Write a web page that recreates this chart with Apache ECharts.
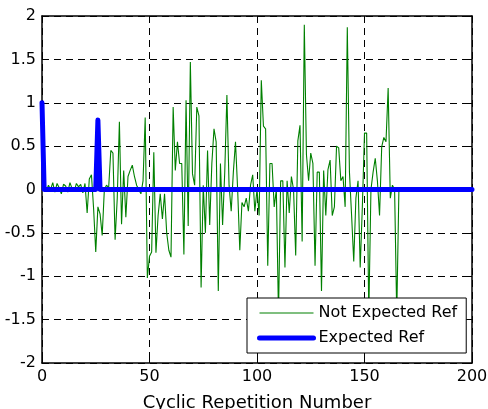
<!DOCTYPE html>
<html><head><meta charset="utf-8">
<script src="https://cdn.jsdelivr.net/npm/echarts@6/dist/echarts.min.js"></script>
<style>html,body{margin:0;padding:0;background:#fff}#c{width:488px;height:409px}</style>
</head><body><div id="c"></div>
<script>
// Not Expected Ref: values at x = 1, 2, 3, ...
const notExpectedStartX = 1;
const notExpectedValues = [
  0.03,-0.02,0.05,0.00,0.08,-0.03,0.07,0.02,-0.05,0.06,
  0.04,-0.03,0.08,0.01,-0.02,0.07,0.03,0.06,-0.04,0.07,
  -0.27,0.12,0.17,-0.22,-0.72,-0.20,-0.28,-0.53,0.00,0.05,
  0.02,0.45,0.42,-0.58,-0.10,0.78,-0.40,0.22,-0.32,0.15,
  0.22,0.28,0.15,0.05,0.00,-0.05,0.10,0.83,-1.02,-0.77,
  -0.72,0.43,-0.73,-0.30,-0.05,-0.34,-0.05,-0.50,-0.70,-0.78,
  0.95,0.22,0.55,0.30,0.30,-0.75,1.03,-0.42,1.47,0.18,
  0.05,0.95,0.85,-1.13,0.05,-0.50,0.45,-0.41,0.30,0.70,
  0.55,-1.17,0.30,-0.41,0.20,1.09,0.05,-0.25,0.20,0.55,
  0.00,-0.70,-0.15,-0.20,-0.10,-0.25,0.05,0.17,-0.25,0.00,
  -0.30,1.26,0.73,0.70,-0.88,0.30,0.30,-0.20,0.00,-1.45,
  0.10,0.10,-0.90,0.10,-0.27,0.15,0.00,-0.76,0.56,0.74,
  -0.60,1.90,0.40,0.10,0.42,0.30,-0.88,0.20,0.20,-1.17,
  0.22,-0.30,0.23,0.34,-0.30,-0.20,0.50,0.48,0.10,0.15,
  -0.20,1.87,0.20,-0.30,-0.83,-0.10,0.10,-0.90,-0.20,0.65,
  0.65,-1.45,0.00,0.20,0.36,0.10,-0.30,0.49,0.60,0.55,
  1.17,-0.10,0.05,0.00,-1.45,0.00
];
// Expected Ref breakpoints
const expectedX = [0, 1, 25, 26, 27, 200];
const expectedY = [1, 0, 0, 0.8, 0, 0];
const seriesNames = ['Not Expected Ref', 'Expected Ref'];
const xAxisTitle = 'Cyclic Repetition Number';

const font = 'DejaVu Sans';
const greenData = notExpectedValues.map((v, i) => [notExpectedStartX + i, v]);
const blueData = expectedX.map((x, i) => [x, expectedY[i]]);

const chart = echarts.init(document.getElementById('c'), null, {renderer: 'canvas'});
const axisCommon = {
  axisLine: {show: true, onZero: false, lineStyle: {color: '#000', width: 1.5}},
  axisTick: {show: true, inside: true, length: 5, lineStyle: {color: '#000', width: 1}},
};
chart.setOption({
  animation: false,
  backgroundColor: '#fff',
  grid: {left: 42, right: 16, top: 16, bottom: 46, containLabel: false, outerBoundsMode: 'none'},
  legend: {
    data: [
      {name: seriesNames[0], lineStyle: {width: 1.2, color: '#008000'}, itemStyle: {opacity: 0}},
      {name: seriesNames[1], lineStyle: {width: 5, color: '#0000ff'}, itemStyle: {opacity: 0}}
    ],
    orient: 'vertical',
    left: 247, top: 298,
    padding: [7, 9, 7, 10],
    itemWidth: 54, itemHeight: 16, itemGap: 9,
    backgroundColor: '#fff', borderColor: '#000', borderWidth: 1, borderRadius: 0,
    textStyle: {fontFamily: font, fontSize: 16, color: '#000'},
    selectedMode: false
  },
  xAxis: [
    Object.assign({
      type: 'value', min: 0, max: 200, interval: 50, position: 'bottom',
      name: xAxisTitle, nameLocation: 'middle', nameGap: 31,
      nameTextStyle: {fontFamily: font, fontSize: 18, color: '#000'},
      axisLabel: {fontFamily: font, fontSize: 16, color: '#000', margin: 6},
      splitLine: {show: true, lineStyle: {color: '#000', width: 1, type: [7, 5]}}
    }, axisCommon),
    Object.assign({
      type: 'value', min: 0, max: 200, interval: 50, position: 'top',
      axisLabel: {show: false}, splitLine: {show: false}
    }, axisCommon)
  ],
  yAxis: [
    Object.assign({
      type: 'value', min: -2, max: 2, interval: 0.5, position: 'left',
      axisLabel: {fontFamily: font, fontSize: 16, color: '#000', margin: 6},
      splitLine: {show: true, lineStyle: {color: '#000', width: 1, type: [7, 5]}}
    }, axisCommon),
    Object.assign({
      type: 'value', min: -2, max: 2, interval: 0.5, position: 'right',
      axisLabel: {show: false}, splitLine: {show: false}
    }, axisCommon)
  ],
  series: [
    {
      name: seriesNames[0], type: 'line', data: greenData,
      xAxisIndex: 0, yAxisIndex: 0,
      showSymbol: false, symbol: 'none',
      lineStyle: {color: '#008000', width: 1.1}, itemStyle: {color: '#008000'},
      clip: true
    },
    {
      name: seriesNames[1], type: 'line', data: blueData,
      xAxisIndex: 0, yAxisIndex: 0,
      showSymbol: false, symbol: 'none',
      lineStyle: {color: '#0000ff', width: 5, join: 'round', cap: 'round'}, itemStyle: {color: '#0000ff'},
      clip: true
    }
  ]
});
</script></body></html>
